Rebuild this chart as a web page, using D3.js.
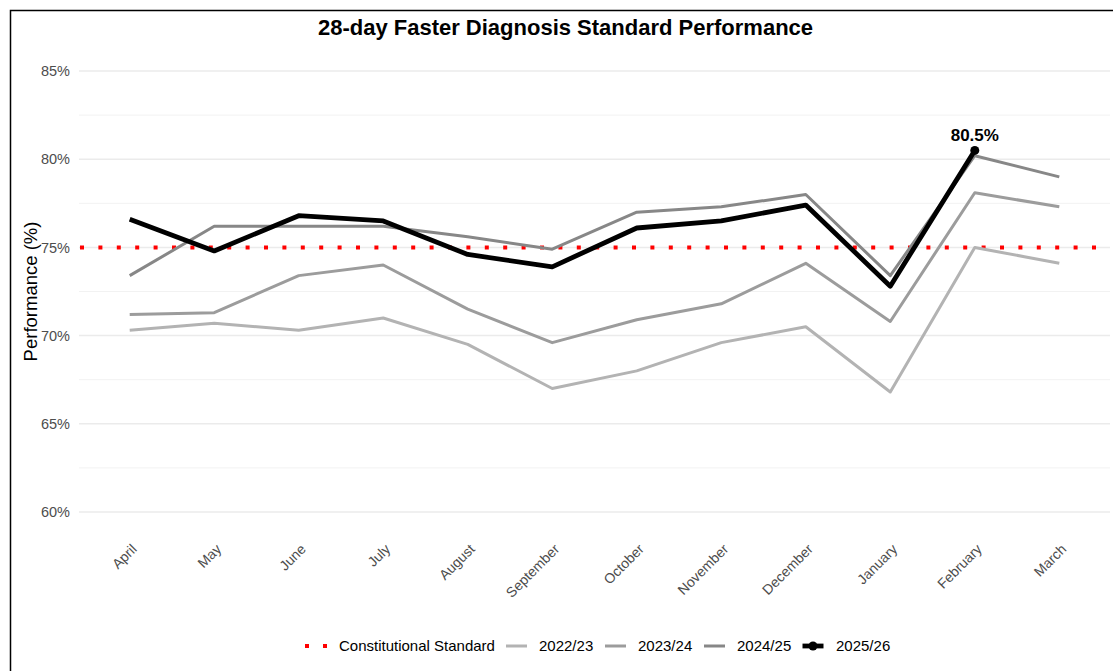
<!DOCTYPE html>
<html>
<head>
<meta charset="utf-8">
<script src="https://cdn.jsdelivr.net/npm/d3@7"></script>
<style>
  body { margin: 0; background: #fff; }
  svg { font-family: "Liberation Sans", Arial, sans-serif; }
</style>
</head>
<body>
<div id="chart"></div>
<script>
const months = ["April", "May", "June", "July", "August", "September", "October",
  "November", "December", "January", "February", "March"];

const fy2223 = [70.3, 70.7, 70.3, 71.0, 69.5, 67.0, 68.0, 69.6, 70.5, 66.8, 75.0, 74.1];
const fy2324 = [71.2, 71.3, 73.4, 74.0, 71.5, 69.6, 70.9, 71.8, 74.1, 70.8, 78.1, 77.3];
const fy2425 = [73.4, 76.2, 76.2, 76.2, 75.6, 74.9, 77.0, 77.3, 78.0, 73.4, 80.2, 79.0];
const fy2526 = [76.6, 74.8, 76.8, 76.5, 74.6, 73.9, 76.1, 76.5, 77.4, 72.8, 80.5, null];

const standard = 75;
const yTicks = [60, 65, 70, 75, 80, 85];
const yMinor = [62.5, 67.5, 72.5, 77.5, 82.5];

const width = 1113, height = 671;
const margin = { top: 49, right: 3, bottom: 137, left: 79 };

const svg = d3.select("#chart").append("svg")
  .attr("width", width)
  .attr("height", height);

// outer frame (left + top edges visible)
svg.append("path")
  .attr("d", `M10.5,${height}V10.5H${width}`)
  .attr("fill", "none")
  .attr("stroke", "#000")
  .attr("stroke-width", 1.5);

const x = d3.scalePoint()
  .domain(months)
  .range([margin.left, width - margin.right])
  .padding(0.6);

const y = d3.scaleLinear()
  .domain([58.75, 86.25])
  .range([height - margin.bottom, margin.top]);

// grid
svg.append("g").selectAll("line.minor")
  .data(yMinor)
  .join("line")
  .attr("x1", margin.left).attr("x2", width - margin.right)
  .attr("y1", d => y(d)).attr("y2", d => y(d))
  .attr("stroke", "#f2f2f2").attr("stroke-width", 1);

svg.append("g").selectAll("line.major")
  .data(yTicks)
  .join("line")
  .attr("x1", margin.left).attr("x2", width - margin.right)
  .attr("y1", d => y(d)).attr("y2", d => y(d))
  .attr("stroke", "#ebebeb").attr("stroke-width", 1.5);

// y axis labels
const yAxis = svg.append("g")
  .attr("transform", `translate(${margin.left},0)`)
  .call(d3.axisLeft(y).tickValues(yTicks).tickSize(0).tickPadding(9).tickFormat(d => d + "%"));
yAxis.select(".domain").remove();
yAxis.selectAll("text")
  .attr("fill", "#4d4d4d")
  .attr("font-size", 14.5)
  .attr("font-family", "Liberation Sans, Arial, sans-serif");

// x axis labels
const xAxis = svg.append("g")
  .attr("transform", `translate(0,${height - margin.bottom})`)
  .call(d3.axisBottom(x).tickSize(0).tickPadding(0));
xAxis.select(".domain").remove();
xAxis.selectAll("text")
  .attr("fill", "#4d4d4d")
  .attr("font-size", 14)
  .attr("font-family", "Liberation Sans, Arial, sans-serif")
  .attr("text-anchor", "end")
  .attr("dy", "0")
  .attr("transform", "translate(7.5,16) rotate(-45)");

// axis title
svg.append("text")
  .attr("transform", `translate(36.5,${(y(60) + y(85)) / 2}) rotate(-90)`)
  .attr("text-anchor", "middle")
  .attr("font-size", 18.5)
  .attr("fill", "#000")
  .text("Performance (%)");

// title
svg.append("text")
  .attr("x", 565.5)
  .attr("y", 35)
  .attr("text-anchor", "middle")
  .attr("font-size", 22)
  .attr("font-weight", "bold")
  .text("28-day Faster Diagnosis Standard Performance");

// standard line
svg.append("line")
  .attr("x1", margin.left + 1).attr("x2", width - margin.right)
  .attr("y1", y(standard)).attr("y2", y(standard))
  .attr("stroke", "red")
  .attr("stroke-width", 4)
  .attr("stroke-dasharray", "4 14.4");

const line = d3.line()
  .defined(d => d.v != null)
  .x(d => x(d.m))
  .y(d => y(d.v));

const series = [
  { name: "2022/23", values: fy2223, color: "#b3b3b3", w: 3 },
  { name: "2023/24", values: fy2324, color: "#9c9c9c", w: 3 },
  { name: "2024/25", values: fy2425, color: "#878787", w: 3 },
  { name: "2025/26", values: fy2526, color: "#000000", w: 4.8 }
];

series.forEach(s => {
  svg.append("path")
    .datum(months.map((m, i) => ({ m, v: s.values[i] })))
    .attr("fill", "none")
    .attr("stroke", s.color)
    .attr("stroke-width", s.w)
    .attr("stroke-linejoin", "round")
    .attr("d", line);
});

// latest point + label
const lastIdx = fy2526.reduce((a, v, i) => v != null ? i : a, 0);
svg.append("circle")
  .attr("cx", x(months[lastIdx]))
  .attr("cy", y(fy2526[lastIdx]))
  .attr("r", 4.5)
  .attr("fill", "#000");
svg.append("text")
  .attr("x", x(months[lastIdx]))
  .attr("y", y(fy2526[lastIdx]) - 9)
  .attr("text-anchor", "middle")
  .attr("font-size", 17)
  .attr("font-weight", "bold")
  .text(fy2526[lastIdx].toFixed(1) + "%");

// legend
const legend = svg.append("g").attr("transform", "translate(0,646)");
const items = [
  { name: "Constitutional Standard", x: 305, tx: 339, color: "red", dash: true },
  { name: "2022/23", x: 506, tx: 539, color: "#b3b3b3", w: 3 },
  { name: "2023/24", x: 605, tx: 638, color: "#9c9c9c", w: 3 },
  { name: "2024/25", x: 704, tx: 737, color: "#878787", w: 3 },
  { name: "2025/26", x: 802.5, tx: 836, color: "#000", w: 4.8, dot: true }
];
items.forEach(it => {
  if (it.dash) {
    legend.append("line")
      .attr("x1", it.x).attr("x2", it.x + 22)
      .attr("stroke", "red").attr("stroke-width", 4)
      .attr("stroke-dasharray", "4 14");
  } else {
    legend.append("line")
      .attr("x1", it.x).attr("x2", it.x + 21)
      .attr("stroke", it.color).attr("stroke-width", it.w);
  }
  if (it.dot) {
    legend.append("circle").attr("cx", it.x + 10.5).attr("r", 4.5).attr("fill", "#000");
  }
  legend.append("text")
    .attr("x", it.tx)
    .attr("dy", "0.35em")
    .attr("font-size", 15)
    .attr("fill", "#000")
    .text(it.name);
});
</script>
</body>
</html>
